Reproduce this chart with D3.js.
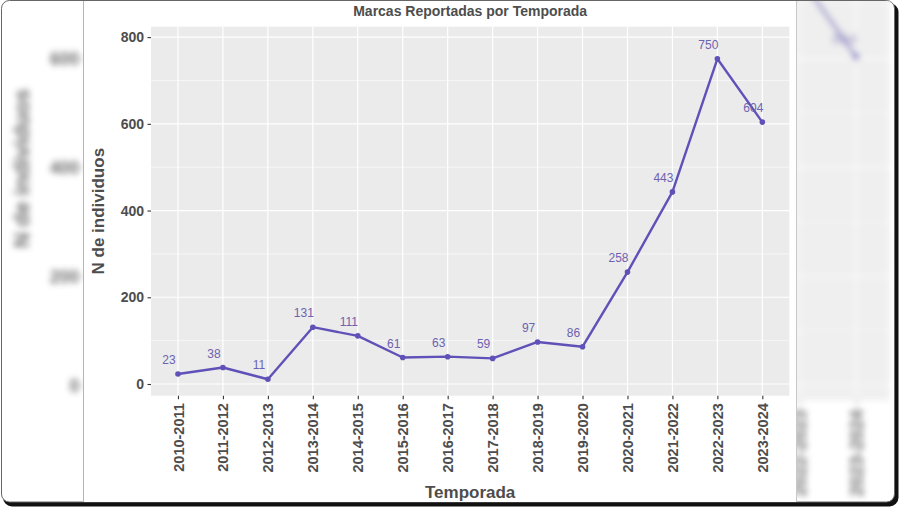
<!DOCTYPE html>
<html><head><meta charset="utf-8">
<script src="https://cdn.jsdelivr.net/npm/d3@7"></script>
<style>body{margin:0;background:#fff}svg{display:block}</style>
</head><body><svg id="c" width="900" height="507"></svg>
<script>
const categories = ["2010-2011","2011-2012","2012-2013","2013-2014","2014-2015","2015-2016","2016-2017","2017-2018","2018-2019","2019-2020","2020-2021","2021-2022","2022-2023","2023-2024"];
const values = [23,38,11,131,111,61,63,59,97,86,258,443,750,604];
const yTicks = [0,200,400,600,800];
const yMinorTicks = [100,300,500,700];
const titleText = "Marcas Reportadas por Temporada";
const xTitleText = "Temporada";
const yTitleText = "N de individuos";

const FONT = "'Liberation Sans', Arial, sans-serif";
const svg = d3.select("#c");
const defs = svg.append("defs");
defs.append("filter").attr("id","blur").attr("x","-20%").attr("y","-20%").attr("width","140%").attr("height","140%")
  .append("feGaussianBlur").attr("stdDeviation",3);
const clip = defs.append("clipPath").attr("id","sides");
clip.append("rect").attr("x",2).attr("y",1).attr("width",81.5).attr("height",500);
clip.append("rect").attr("x",796.5).attr("y",1).attr("width",98).attr("height",500);

// frame
svg.append("rect").attr("x",3).attr("y",3).attr("width",895.5).attr("height",503.5).attr("rx",9).attr("fill","#111");
svg.append("rect").attr("x",1.5).attr("y",0.5).attr("width",893).attr("height",501.5).attr("rx",8)
  .attr("fill","#fff").attr("stroke","#666").attr("stroke-width",1);

// blurred magnified background copy
svg.append("g").attr("clip-path","url(#sides)")
  .append("g").attr("filter","url(#blur)").attr("opacity",0.8)
  .append("use").attr("href","#chart").attr("transform","translate(-101.6,-96.9) scale(1.256)");

// central panel
svg.append("rect").attr("x",83.5).attr("y",1).attr("width",713).attr("height",501).attr("fill","#fff");
svg.append("line").attr("x1",83.5).attr("x2",83.5).attr("y1",1).attr("y2",502).attr("stroke","#b5b5b5");
svg.append("line").attr("x1",796.5).attr("x2",796.5).attr("y1",1).attr("y2",502).attr("stroke","#c8c8c8");

const g = svg.append("g").attr("id","chart");
const P = {l:151, r:789.3, t:26.7, b:395.7};
const x = d3.scalePoint().domain(categories).range([P.l, P.r]).padding(0.6);
const y = d3.scaleLinear().domain([-27, 824]).range([P.b, P.t]);

g.append("rect").attr("x",P.l).attr("y",P.t).attr("width",P.r-P.l).attr("height",P.b-P.t).attr("fill","#ebebeb");
g.selectAll(".gmin").data(yMinorTicks).join("line")
  .attr("x1",P.l).attr("x2",P.r).attr("y1",d=>y(d)).attr("y2",d=>y(d))
  .attr("stroke","#fff").attr("stroke-width",0.6);
g.selectAll(".gmaj").data(yTicks).join("line")
  .attr("x1",P.l).attr("x2",P.r).attr("y1",d=>y(d)).attr("y2",d=>y(d))
  .attr("stroke","#fff").attr("stroke-width",1.2);
g.selectAll(".gx").data(categories).join("line")
  .attr("x1",d=>x(d)).attr("x2",d=>x(d)).attr("y1",P.t).attr("y2",P.b)
  .attr("stroke","#fff").attr("stroke-width",1.2);

// y axis
const ya = g.append("g").attr("transform",`translate(${P.l},0)`)
  .call(d3.axisLeft(y).tickValues(yTicks).tickSize(3.5).tickPadding(3.5));
ya.select(".domain").remove();
ya.selectAll(".tick line").attr("stroke","#333").attr("stroke-width",1.1);
ya.selectAll(".tick text").attr("fill","#4d4d4d").style("font-family",FONT).style("font-size","14px").style("font-weight","bold");

// x axis
const xa = g.append("g").attr("transform",`translate(0,${P.b})`)
  .call(d3.axisBottom(x).tickSize(3.5).tickPadding(3));
xa.select(".domain").remove();
xa.selectAll(".tick line").attr("stroke","#333").attr("stroke-width",1.1);
xa.selectAll(".tick text").attr("fill","#4d4d4d").style("font-family",FONT).style("font-size","14.5px").style("font-weight","bold")
  .attr("transform","rotate(-90)").attr("text-anchor","end").attr("x",-7.5).attr("y",0).attr("dy","0.35em");

// line + points
const pts = categories.map((c,i)=>({c, v: values[i]}));
g.append("path").datum(pts)
  .attr("d", d3.line().x(d=>x(d.c)).y(d=>y(d.v)))
  .attr("fill","none").attr("stroke","#5f51b8").attr("stroke-width",2.4).attr("stroke-linejoin","round");
g.selectAll(".pt").data(pts).join("circle")
  .attr("cx",d=>x(d.c)).attr("cy",d=>y(d.v)).attr("r",2.8).attr("fill","#5f51b8");
g.selectAll(".lbl").data(pts).join("text")
  .attr("x",d=>x(d.c)-9).attr("y",d=>y(d.v)-10)
  .attr("text-anchor","middle").attr("fill","#6d62b0")
  .style("font-family",FONT).style("font-size","12px")
  .text(d=>d.v);

// titles
g.append("text").attr("x",(P.l+P.r)/2).attr("y",15.5).attr("text-anchor","middle")
  .attr("fill","#4d4d4d").style("font-family",FONT).style("font-size","14px").style("font-weight","bold").text(titleText);
g.append("text").attr("x",(P.l+P.r)/2).attr("y",498).attr("text-anchor","middle")
  .attr("fill","#4d4d4d").style("font-family",FONT).style("font-size","17px").style("font-weight","bold").text(xTitleText);
g.append("text").attr("transform",`translate(104,${(P.t+P.b)/2}) rotate(-90)`).attr("text-anchor","middle")
  .attr("fill","#4d4d4d").style("font-family",FONT).style("font-size","17px").style("font-weight","bold").text(yTitleText);
</script></body></html>
